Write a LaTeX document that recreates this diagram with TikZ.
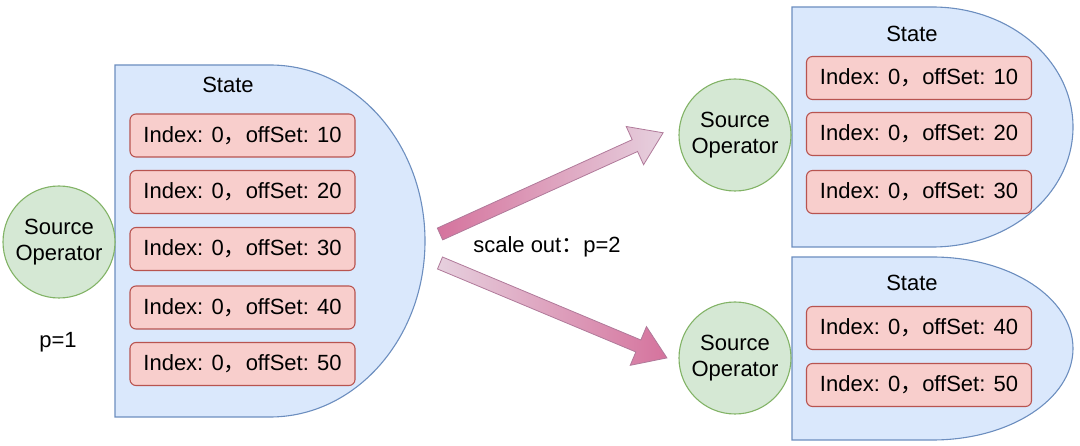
\documentclass[tikz,border=0pt]{standalone}
\usepackage{fontspec}
\setmainfont{Liberation Sans}
\newfontfamily\cjk{Noto Sans CJK SC}
\definecolor{stfill}{HTML}{DAE8FC}
\definecolor{stline}{HTML}{6C8EBF}
\definecolor{rfill}{HTML}{F8CECC}
\definecolor{rline}{HTML}{B85450}
\definecolor{gfill}{HTML}{D5E8D4}
\definecolor{gline}{HTML}{82B366}
\definecolor{pdark}{HTML}{D5739D}
\definecolor{plight}{HTML}{E6D0DE}
\definecolor{pline}{HTML}{B07A9A}
\tikzset{
  state/.style={fill=stfill, draw=stline, line width=1.1pt},
  rec/.style={draw=rline, fill=rfill, line width=1.1pt, rounded corners=6pt, minimum width=225pt, minimum height=43pt, inner sep=0pt},
  src/.style={circle, draw=gline, fill=gfill, line width=1.1pt, minimum size=112pt, inner sep=0pt, align=center},
  txt/.style={font=\fontsize{22}{26}\selectfont}
}
\begin{document}
\begin{tikzpicture}[x=1pt, y=-1pt, every node/.style={txt}]
\useasboundingbox (0,0) rectangle (1080,446);

% state before scale out
\draw[state] (115,65) -- (270,65) arc[start angle=-90, end angle=90, x radius=155, y radius=176] -- (115,417) -- cycle;
\node (lstate) at (228,85) {State};
\node [rec] (l1) at (242.5,135.5) {Index: 0{\cjk ，}offSet: 10};
\node [rec] (l2) at (242.5,192) {Index: 0{\cjk ，}offSet: 20};
\node [rec] (l3) at (242.5,249) {Index: 0{\cjk ，}offSet: 30};
\node [rec] (l4) at (242.5,307.5) {Index: 0{\cjk ，}offSet: 40};
\node [rec] (l5) at (242.5,364) {Index: 0{\cjk ，}offSet: 50};
\node [src] (lsrc) at (59,242) {Source\\Operator};
\node (p1) at (58,342) {p=1};

% states after scale out
\draw[state] (792,7) -- (932.5,7) arc[start angle=-90, end angle=90, x radius=140.5, y radius=120] -- (792,247) -- cycle;
\node (tstate) at (912,34) {State};
\node [rec] (t1) at (919,78) {Index: 0{\cjk ，}offSet: 10};
\node [rec] (t2) at (919,134) {Index: 0{\cjk ，}offSet: 20};
\node [rec] (t3) at (919,192) {Index: 0{\cjk ，}offSet: 30};
\node [src] (tsrc) at (735,135) {Source\\Operator};

\draw[state] (792,257) -- (932.5,257) arc[start angle=-90, end angle=90, x radius=140.5, y radius=91.5] -- (792,440) -- cycle;
\node (bstate) at (912,283) {State};
\node [rec] (b1) at (919,328) {Index: 0{\cjk ，}offSet: 40};
\node [rec] (b2) at (919,385) {Index: 0{\cjk ，}offSet: 50};
\node [src] (bsrc) at (735,358) {Source\\Operator};

% scale out arrows
\coordinate (uptail) at (440,234);
\coordinate (lowtail) at (440,263);
\begin{scope}[shift={(uptail)}, rotate=24.4]
\shade[left color=pdark, right color=plight, draw=pline, line width=0.8pt] (0,-6.5) -- (214,-6.5) -- (214,-21) -- (245,0) -- (214,21) -- (214,6.5) -- (0,6.5) -- cycle;
\end{scope}
\begin{scope}[shift={(lowtail)}, rotate=-22.7]
\shade[left color=plight, right color=pdark, draw=pline, line width=0.8pt] (0,-6.5) -- (215,-6.5) -- (215,-21) -- (246,0) -- (215,21) -- (215,6.5) -- (0,6.5) -- cycle;
\end{scope}
\node (scale) at (547,247) {scale out{\cjk ：}p=2};
\end{tikzpicture}
\end{document}
